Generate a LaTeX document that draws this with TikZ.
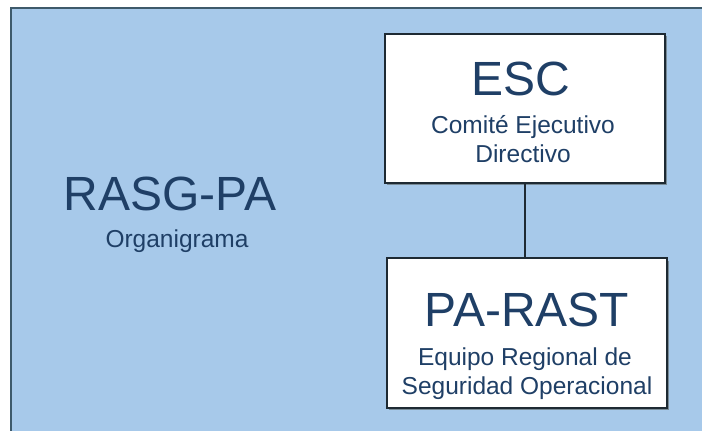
\documentclass[tikz,border=0pt]{standalone}
\usepackage{fontspec}
\setmainfont{Liberation Sans}
\definecolor{bgblue}{HTML}{A7C9EA}
\definecolor{frameline}{HTML}{3E5A6B}
\definecolor{txtblue}{HTML}{1F3F66}
\definecolor{boxline}{HTML}{1E2A33}
\tikzset{
  orgbox/.style={draw=boxline, line width=1.4pt, fill=white, minimum width=280pt, minimum height=149pt, inner sep=0pt},
  shadowbox/.style={fill=frameline!70, minimum width=280pt, minimum height=149pt, inner sep=0pt},
  bigtxt/.style={text=txtblue, anchor=base, inner sep=0pt, font=\fontsize{48}{48}\selectfont},
  smalltxt/.style={text=txtblue, anchor=base, inner sep=0pt, font=\fontsize{24.5}{29}\selectfont},
  link/.style={draw=boxline, line width=1.4pt}
}
\begin{document}
\begin{tikzpicture}[x=1pt,y=-1pt]
\useasboundingbox (0,0) rectangle (702,431);
\fill[bgblue] (11,8) rectangle (712,442);
\draw[frameline, line width=2.2pt] (11,442) -- (11,8) -- (712,8);
% shadows
\node[shadowbox] at (527,110.5) {};
\node[shadowbox] at (529,335) {};
% boxes
\node[orgbox] (esc) at (525,108.5) {};
\node[orgbox, minimum height=150pt] (parast) at (527,333) {};
\draw[link] (esc.south) -- (esc.south |- parast.north);
% texts
\node[bigtxt] (t1) at (521,95) {ESC};
\node[smalltxt] (t2) at (523,133) {Comité Ejecutivo};
\node[smalltxt] (t3) at (523,162) {Directivo};
\node[bigtxt] (t4) at (527,326) {PA-RAST};
\node[smalltxt] (t5) at (525,365) {Equipo Regional de};
\node[smalltxt] (t6) at (527,394) {Seguridad Operacional};
\node[bigtxt] (t7) at (170,210) {RASG-PA};
\node[smalltxt] (t8) at (177,247) {Organigrama};
\end{tikzpicture}
\end{document}
